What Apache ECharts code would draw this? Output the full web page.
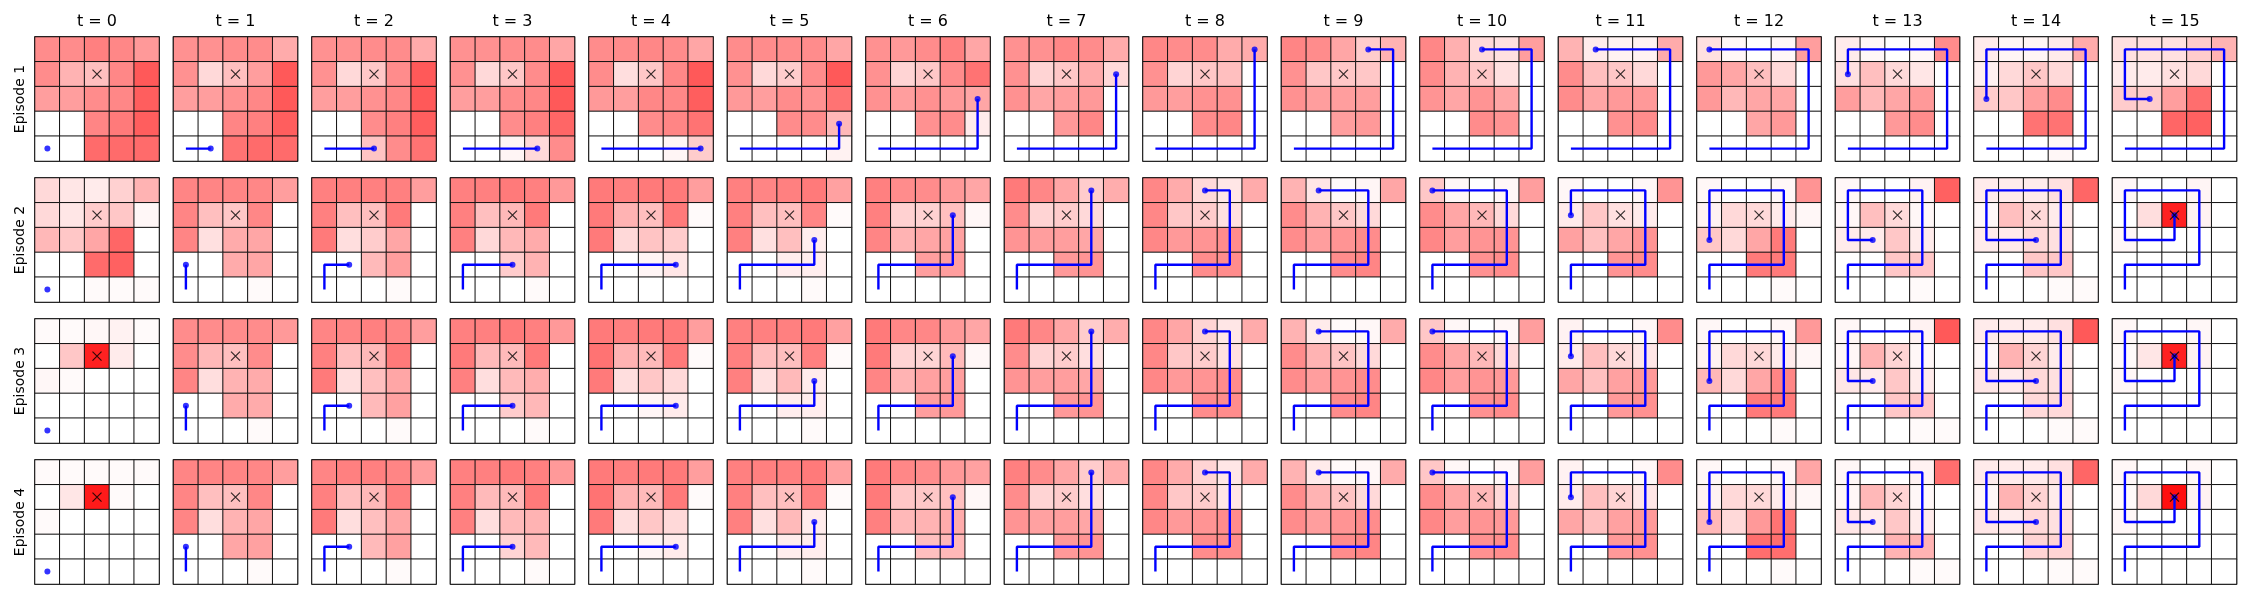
<!DOCTYPE html>
<html><head><meta charset="utf-8">
<script src="https://cdn.jsdelivr.net/npm/echarts@6/dist/echarts.min.js"></script>
<style>html,body{margin:0;padding:0;background:#fff}#c{width:2250px;height:600px}</style>
</head><body><div id="c"></div>
<script>
// ---- data ----
const timeLabels = ['t = 0','t = 1','t = 2','t = 3','t = 4','t = 5','t = 6','t = 7','t = 8','t = 9','t = 10','t = 11','t = 12','t = 13','t = 14','t = 15'];
const episodeLabels = ['Episode 1','Episode 2','Episode 3','Episode 4'];
const gridCats = [0,1,2,3,4];
const target = [2,1]; // [col,row]
const pathEp1 = [[0,4],[1,4],[2,4],[3,4],[4,4],[4,3],[4,2],[4,1],[4,0],[3,0],[2,0],[1,0],[0,0],[0,1],[0,2],[1,2]];
const pathEp234 = [[0,4],[0,3],[1,3],[2,3],[3,3],[3,2],[3,1],[3,0],[2,0],[1,0],[0,0],[0,1],[0,2],[1,2],[2,2],[2,1]];

// intensity (0-100) per cell, rows top->bottom
const ep1 = [
 [[45,45,50,47,40],[45,30,25,47,65],[38,38,45,47,63],[0,0,48,52,63],[0,0,58,58,58]],
 [[43,43,45,45,33],[43,15,25,38,65],[38,38,43,47,65],[0,0,48,50,63],[0,0,55,58,58]],
 [[43,43,45,45,33],[43,15,22,45,65],[38,38,43,47,65],[0,0,45,50,63],[0,0,23,45,55]],
 [[43,43,45,45,35],[43,15,22,45,65],[38,38,45,47,65],[0,0,45,50,60],[0,0,4,15,45]],
 [[45,45,47,45,35],[45,13,22,47,65],[40,38,47,47,63],[0,0,45,48,55],[0,0,0,4,20]],
 [[45,45,45,45,35],[43,15,20,45,65],[40,38,45,43,55],[0,0,45,45,28],[0,0,0,0,5]],
 [[43,40,45,50,35],[43,17,22,45,55],[43,38,43,40,35],[0,0,43,45,8],[0,0,0,0,0]],
 [[43,43,47,45,33],[43,17,22,33,15],[43,35,38,40,0],[0,0,40,47,0],[0,0,0,0,0]],
 [[47,45,45,33,33],[43,17,22,25,0],[40,38,43,43,0],[0,0,45,47,0],[0,0,0,0,0]],
 [[48,45,35,20,30],[43,22,22,22,0],[43,38,38,38,0],[0,0,38,40,0],[0,0,0,0,0]],
 [[47,31,15,12,38],[45,30,22,12,0],[42,35,42,35,0],[0,0,45,42,0],[0,0,0,0,0]],
 [[30,8,5,5,33],[45,25,22,15,0],[45,35,40,40,0],[0,0,43,45,0],[0,0,0,0,0]],
 [[12,3,0,3,38],[40,35,25,15,0],[40,28,35,35,0],[0,0,35,40,0],[0,0,0,0,0]],
 [[8,3,0,3,45],[12,25,15,10,0],[38,28,35,40,0],[0,0,40,45,0],[0,0,0,0,0]],
 [[8,4,4,8,33],[6,15,22,15,0],[20,22,38,45,0],[0,0,55,55,0],[0,0,0,3,0]],
 [[12,12,12,20,30],[8,8,12,15,0],[20,20,38,57,0],[0,0,60,62,0],[0,0,0,0,0]]
];
const ep2 = [
 [[15,10,8,18,30],[15,10,20,22,3],[28,22,35,60,0],[0,0,58,62,0],[0,0,2,2,2]],
 [[48,48,48,47,38],[48,25,22,47,0],[48,12,33,35,0],[0,0,33,35,0],[0,0,0,2,0]],
 [[50,50,50,50,38],[50,25,25,52,0],[52,13,20,35,0],[0,0,27,38,0],[0,0,0,2,0]],
 [[50,50,52,50,40],[50,25,28,52,0],[50,15,28,33,0],[0,0,20,30,0],[0,0,0,2,0]],
 [[52,50,52,52,38],[52,30,25,52,2],[52,15,23,20,0],[0,0,4,10,0],[0,0,0,0,0]],
 [[50,48,50,52,37],[50,25,25,48,2],[50,12,25,7,0],[0,0,7,7,0],[0,0,0,2,0]],
 [[50,45,45,40,35],[50,18,18,25,3],[48,30,35,37,0],[0,0,38,38,0],[0,0,0,0,0]],
 [[52,47,35,20,32],[45,17,20,15,0],[42,38,38,35,0],[0,0,40,42,0],[0,0,0,0,0]],
 [[47,33,15,10,33],[47,22,20,12,0],[47,40,42,45,0],[0,0,45,45,0],[0,0,0,0,0]],
 [[30,10,2,4,35],[45,30,22,15,0],[45,38,42,45,0],[0,0,45,48,0],[0,0,0,0,0]],
 [[22,3,0,3,38],[45,35,28,15,0],[47,38,42,42,0],[0,0,43,45,0],[0,0,0,0,0]],
 [[3,0,0,3,42],[8,22,12,8,0],[37,25,35,42,0],[0,0,42,45,0],[0,0,0,0,0]],
 [[3,0,0,3,42],[5,15,15,8,3],[22,15,35,52,0],[0,0,52,52,0],[0,0,0,2,0]],
 [[3,0,0,5,62],[3,25,15,3,0],[8,8,22,8,0],[0,0,22,22,0],[0,0,0,2,0]],
 [[8,8,8,12,60],[3,25,15,8,0],[8,8,15,12,0],[0,0,22,22,0],[0,0,0,2,2]],
 [[3,0,0,4,0],[0,13,87,5,0],[3,0,0,0,0],[0,0,0,0,0],[0,0,0,0,0]]
];
const ep3 = [
 [[2,2,3,5,2],[0,22,87,8,0],[3,2,0,0,0],[0,0,0,0,0],[0,0,0,0,0]],
 [[45,45,45,45,40],[45,28,25,45,0],[48,13,30,33,0],[0,0,33,33,0],[0,0,0,2,0]],
 [[48,48,50,48,38],[50,25,28,52,0],[52,13,25,35,0],[0,0,27,37,0],[0,0,0,2,0]],
 [[50,50,52,50,40],[52,27,27,52,0],[50,13,27,32,0],[0,0,20,28,0],[0,0,0,2,0]],
 [[52,50,52,52,38],[55,30,27,52,2],[52,13,22,15,0],[0,0,4,8,0],[0,0,0,0,0]],
 [[50,50,50,52,37],[50,25,25,50,2],[50,12,27,8,0],[0,0,7,7,0],[0,0,0,2,0]],
 [[52,47,47,40,35],[52,17,17,27,3],[48,30,37,38,0],[0,0,38,40,0],[0,0,0,0,0]],
 [[52,47,35,20,32],[45,17,20,13,0],[42,38,38,35,0],[0,0,40,42,0],[0,0,0,0,0]],
 [[47,35,17,10,33],[47,22,20,12,0],[47,40,42,45,0],[0,0,45,45,0],[0,0,0,0,0]],
 [[30,8,2,3,33],[45,30,23,15,0],[45,38,42,45,0],[0,0,45,48,0],[0,0,0,0,0]],
 [[22,3,0,3,38],[45,35,28,15,0],[47,38,42,40,0],[0,0,43,45,0],[0,0,0,0,0]],
 [[5,0,0,3,45],[8,25,15,10,0],[35,25,37,40,0],[0,0,40,43,0],[0,0,0,0,0]],
 [[3,0,0,3,40],[5,15,15,8,3],[28,15,35,48,0],[0,0,52,52,0],[0,0,0,2,0]],
 [[3,0,0,5,65],[3,30,17,3,0],[10,8,22,8,0],[0,0,22,22,0],[0,0,0,2,2]],
 [[8,8,8,12,65],[3,30,17,8,0],[10,8,15,12,0],[0,0,15,15,0],[0,0,0,2,2]],
 [[3,0,0,3,0],[2,10,87,5,0],[3,0,0,0,0],[0,0,0,0,0],[0,0,0,0,0]]
];
const ep4 = [
 [[2,2,2,2,2],[0,10,90,2,0],[2,0,0,0,0],[0,0,0,0,0],[0,0,0,0,0]],
 [[48,48,48,47,38],[48,25,25,47,0],[48,13,30,35,0],[0,0,35,37,0],[0,0,0,2,0]],
 [[48,50,50,48,38],[50,25,28,50,0],[52,13,25,35,0],[0,0,27,37,0],[0,0,0,2,0]],
 [[50,50,52,50,40],[50,27,27,52,0],[50,13,27,30,0],[0,0,17,27,0],[0,0,0,2,0]],
 [[52,50,52,52,38],[55,30,27,52,2],[52,13,22,15,0],[0,0,4,8,0],[0,0,0,0,0]],
 [[50,50,50,52,37],[50,25,25,50,2],[50,12,27,8,0],[0,0,7,7,0],[0,0,0,2,0]],
 [[52,47,45,40,37],[52,22,22,25,3],[50,28,30,33,0],[0,0,25,28,0],[0,0,0,0,0]],
 [[50,45,35,20,32],[45,17,20,13,0],[42,37,38,35,0],[0,0,40,42,0],[0,0,0,0,0]],
 [[47,33,17,10,33],[47,22,20,10,0],[47,40,42,45,0],[0,0,45,45,0],[0,0,0,0,0]],
 [[30,8,2,3,33],[45,30,23,15,0],[45,38,42,45,0],[0,0,45,48,0],[0,0,0,0,0]],
 [[22,3,0,3,38],[45,35,28,15,0],[47,38,42,40,0],[0,0,43,45,0],[0,0,0,0,0]],
 [[5,0,0,3,45],[8,25,17,10,0],[35,25,37,40,0],[0,0,40,43,0],[0,0,0,0,0]],
 [[3,0,0,3,35],[5,15,15,8,3],[28,15,40,55,0],[0,0,57,57,0],[0,0,0,2,0]],
 [[3,0,0,5,57],[3,28,17,3,0],[10,8,22,8,0],[0,0,30,30,0],[0,0,0,2,2]],
 [[8,8,8,12,60],[3,30,17,8,0],[10,8,15,12,0],[0,0,17,17,0],[0,0,0,2,2]],
 [[3,0,0,3,0],[2,15,94,5,0],[3,0,0,0,0],[0,0,0,0,0],[0,0,0,0,0]]
];

// ---- build ----
const episodes = [ep1, ep2, ep3, ep4];
const paths = [pathEp1, pathEp234, pathEp234, pathEp234];
const FONT = 'DejaVu Sans';
const SIZE = 124, X0 = 35, DX = 138.5, Y0 = 37, DY = 141;
const grid = [], xAxis = [], yAxis = [], series = [], title = [], heatIdx = [];

timeLabels.forEach((t, c) => {
  title.push({text: t, left: X0 + c*DX + SIZE/2, top: 14, textAlign: 'center', padding: 0,
    textStyle: {fontFamily: FONT, fontSize: 16, fontWeight: 'normal', color: '#000'}});
});

for (let r = 0; r < 4; r++) {
  for (let c = 0; c < 16; c++) {
    const gi = r*16 + c;
    grid.push({left: X0 + c*DX, top: Y0 + r*DY, width: SIZE, height: SIZE,
      show: true, borderColor: '#000', borderWidth: 1.4, backgroundColor: '#fff'});
    xAxis.push({type: 'category', gridIndex: gi, data: gridCats, show: false});
    yAxis.push({type: 'category', gridIndex: gi, data: gridCats, inverse: true,
      axisLine: {show: false}, axisTick: {show: false}, axisLabel: {show: false}, splitLine: {show: false},
      name: c === 0 ? episodeLabels[r] : '', nameLocation: 'middle', nameGap: 8, nameRotate: 90,
      nameTextStyle: {fontFamily: FONT, fontSize: 14, color: '#000'}});
    const frame = episodes[r][c];
    const data = [];
    frame.forEach((row, y) => row.forEach((v, x) => data.push([x, y, v])));
    heatIdx.push(series.length);
    series.push({type: 'heatmap', xAxisIndex: gi, yAxisIndex: gi, data, silent: true, z: 1,
      itemStyle: {borderColor: '#111', borderWidth: 1}, emphasis: {disabled: true}});
    const p = paths[r].slice(0, c + 1);
    if (p.length > 1) {
      series.push({type: 'line', xAxisIndex: gi, yAxisIndex: gi, data: p, symbol: 'none', silent: true, z: 3,
        lineStyle: {color: '#0000ff', width: 2.4}, emphasis: {disabled: true}});
    }
    series.push({type: 'scatter', xAxisIndex: gi, yAxisIndex: gi, data: [p[p.length-1]], symbolSize: 6, silent: true, z: 4,
      itemStyle: {color: '#0000ff'}, emphasis: {disabled: true}});
    series.push({type: 'scatter', xAxisIndex: gi, yAxisIndex: gi, data: [target], silent: true, z: 5,
      symbol: 'path://M0,0L10,10M10,0L0,10', symbolSize: 9,
      itemStyle: {color: 'none', borderColor: '#000', borderWidth: 1.2}, emphasis: {disabled: true}});
  }
}

const chart = echarts.init(document.getElementById('c'), null, {renderer: 'canvas'});
chart.setOption({
  animation: false,
  backgroundColor: '#fff',
  title, grid, xAxis, yAxis, series,
  visualMap: {show: false, type: 'continuous', min: 0, max: 100, dimension: 2, seriesIndex: heatIdx,
    inRange: {color: ['#ffffff', '#ff0000']}}
});
</script></body></html>
